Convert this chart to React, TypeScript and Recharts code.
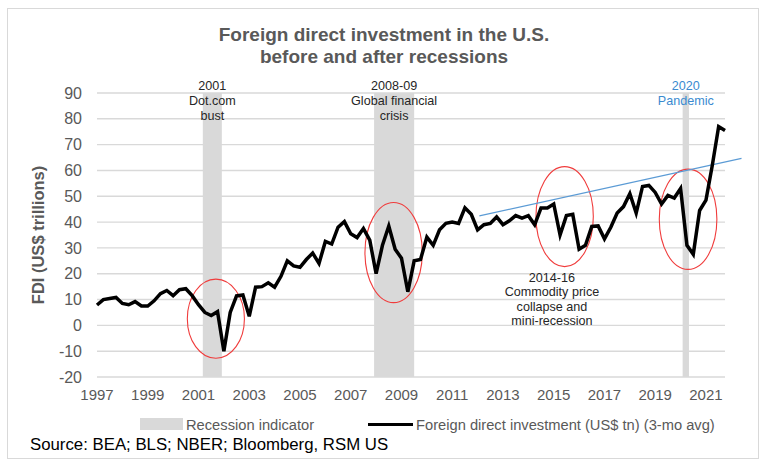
import {
  CartesianGrid,
  Line,
  LineChart,
  ReferenceArea,
  ReferenceDot,
  ReferenceLine,
  XAxis,
  YAxis,
} from "recharts";

// quarterly, 1997 Q1 .. 2021 Q4
const START_YEAR = 1997;
const FDI = [
  7.9, 10, 10.4, 10.8, 8.5, 8, 9.2, 7.5, 7.5, 9.5,
  12.3, 13.5, 11.5, 13.8, 14.2, 11.5, 8, 5, 3.8, 5.3,
  -10, 5, 11.4, 11.8, 3.5, 14.8, 15, 16.5, 14.8, 19,
  25, 23, 22.5, 25.5, 28, 24, 32.5, 31.5, 38, 40.2,
  35.5, 34, 37.5, 33, 20, 31, 38.5, 29.5, 26, 13,
  25, 25.5, 34.2, 31, 37, 39.5, 40, 39.5, 45.5, 43,
  37, 39, 39.5, 42, 39, 40.5, 42.5, 41.5, 42.5, 39,
  45.5, 45.5, 47, 35, 42.5, 43, 29.5, 31, 38.3, 38.5,
  33.5, 38, 43.5, 46, 51, 43.5, 53.8, 54.2, 51.5, 47,
  50.3, 49.3, 53, 31, 27.5, 44.5, 48.5, 62, 77, 75.5,
];

const YEAR_TICKS = [1997, 1999, 2001, 2003, 2005, 2007, 2009, 2011, 2013, 2015, 2017, 2019, 2021];
const VALUE_TICKS = [-20, -10, 0, 10, 20, 30, 40, 50, 60, 70, 80, 90];

const RECESSIONS = [
  { from: 2001.17, to: 2001.92, lines: ["2001", "Dot.com", "bust"], blue: false },
  { from: 2007.92, to: 2009.5, lines: ["2008-09", "Global financial", "crisis"], blue: false },
  { from: 2020.08, to: 2020.33, lines: ["2020", "Pandemic"], blue: true },
];

// red circles around each dip: [year from, year to, value low, value high]
const CIRCLES = [
  [2000.56, 2002.81, -12.75, 17.9],
  [2007.56, 2009.82, 8.8, 47.6],
  [2014.3, 2016.56, 22.75, 61.5],
  [2019.16, 2021.43, 21.7, 60.5],
];

const TREND = [
  { x: 2012.07, y: 42.4 },
  { x: 2022.4, y: 64.7 },
];

const NOTE = { year: 2014.93, value: 18.4, lines: ["2014-16", "Commodity price", "collapse and", "mini-recession"] };

const data = FDI.map((v, i) => ({ t: START_YEAR + i / 4, fdi: v }));

const FONT = '"Liberation Sans", Arial, sans-serif';
const GREY = "#595959";

function Stacked({ cx, top, lines, color, gap }: { cx: number; top: number; lines: string[]; color: string; gap: number }) {
  return (
    <g>
      {lines.map((s, k) => (
        <text
          key={s}
          x={cx}
          y={top + k * gap}
          textAnchor="middle"
          dominantBaseline="central"
          fontSize={12.6}
          fontFamily={FONT}
          fill={color}
        >
          {s}
        </text>
      ))}
    </g>
  );
}

export default function App() {
  return (
    <div style={{ position: "absolute", left: 0, top: 0, width: 768, height: 466, background: "#fff", fontFamily: FONT }}>
      <div style={{ position: "absolute", left: 7, top: 8, width: 750, height: 449, border: "1px solid #d9d9d9" }} />
      <div
        style={{
          position: "absolute",
          left: 0,
          width: 768,
          top: 24,
          textAlign: "center",
          fontSize: 19,
          fontWeight: "bold",
          color: GREY,
          lineHeight: "22px",
        }}
      >
        Foreign direct investment in the U.S.
        <br />
        before and after recessions
      </div>

      <LineChart
        width={768}
        height={466}
        data={data}
        margin={{ top: 93, right: 43, bottom: 59, left: 0 }}
        style={{ position: "absolute", left: 0, top: 0 }}
      >
        <CartesianGrid vertical={false} stroke="#d9d9d9" strokeWidth={1.4} />
        <XAxis
          dataKey="t"
          type="number"
          domain={[1997, 2021.75]}
          ticks={YEAR_TICKS}
          height={30}
          axisLine={false}
          tickLine={false}
          tickSize={0}
          tickMargin={12}
          tick={{ fontSize: 15, fill: GREY, fontFamily: FONT }}
        />
        <YAxis
          type="number"
          domain={[-20, 90]}
          ticks={VALUE_TICKS}
          width={97}
          axisLine={false}
          tickLine={false}
          tickSize={0}
          tickMargin={15}
          tick={{ fontSize: 16, fill: GREY, fontFamily: FONT }}
          label={{
            value: "FDI (US$ trillions)",
            angle: -90,
            position: "insideLeft",
            offset: 38,
            style: { fontSize: 16.5, fontWeight: "bold", fill: GREY, fontFamily: FONT, textAnchor: "middle" },
          }}
        />
        {RECESSIONS.map((r) => (
          <ReferenceArea
            key={r.from}
            x1={r.from}
            x2={r.to}
            y1={-20}
            y2={90}
            fill="#d9d9d9"
            fillOpacity={1}
            stroke="none"
            ifOverflow="visible"
            label={(p: any) => (
              <Stacked
                cx={p.viewBox.x + p.viewBox.width / 2}
                top={p.viewBox.y - 7}
                lines={r.lines}
                color={r.blue ? "#3a8ad0" : "#262626"}
                gap={15}
              />
            )}
          />
        ))}
        <ReferenceLine segment={TREND} stroke="#5b9bd5" strokeWidth={1.2} ifOverflow="visible" />
        <Line
          dataKey="fdi"
          type="linear"
          stroke="#000"
          strokeWidth={3.5}
          dot={false}
          isAnimationActive={false}
        />
        {CIRCLES.map((c) => (
          <ReferenceArea
            key={c[0]}
            x1={c[0]}
            x2={c[1]}
            y1={c[2]}
            y2={c[3]}
            ifOverflow="visible"
            shape={(p: any) => (
              <ellipse
                cx={p.x + p.width / 2}
                cy={p.y + p.height / 2}
                rx={Math.abs(p.width / 2)}
                ry={Math.abs(p.height / 2)}
                fill="none"
                stroke="#f03c3c"
                strokeWidth={1.1}
              />
            )}
          />
        ))}
        <ReferenceDot
          x={NOTE.year}
          y={NOTE.value}
          r={1}
          fill="none"
          stroke="none"
          ifOverflow="visible"
          label={(p: any) => (
            <Stacked cx={p.viewBox.x + p.viewBox.width / 2} top={p.viewBox.y + 1} lines={NOTE.lines} color="#262626" gap={14.5} />
          )}
        />
      </LineChart>

      <div style={{ position: "absolute", left: 140, top: 418, width: 43, height: 12, background: "#d9d9d9" }} />
      <div style={{ position: "absolute", left: 186, top: 416, fontSize: 14.7, color: GREY, lineHeight: "18px" }}>
        Recession indicator
      </div>
      <div style={{ position: "absolute", left: 368, top: 423, width: 45, height: 3, background: "#000" }} />
      <div style={{ position: "absolute", left: 416, top: 416, fontSize: 14.7, color: GREY, lineHeight: "18px" }}>
        Foreign direct investment (US$ tn) (3-mo avg)
      </div>
      <div style={{ position: "absolute", left: 30, top: 435, fontSize: 16.8, color: "#000", lineHeight: "20px" }}>
        Source: BEA; BLS; NBER; Bloomberg, RSM US
      </div>
    </div>
  );
}
